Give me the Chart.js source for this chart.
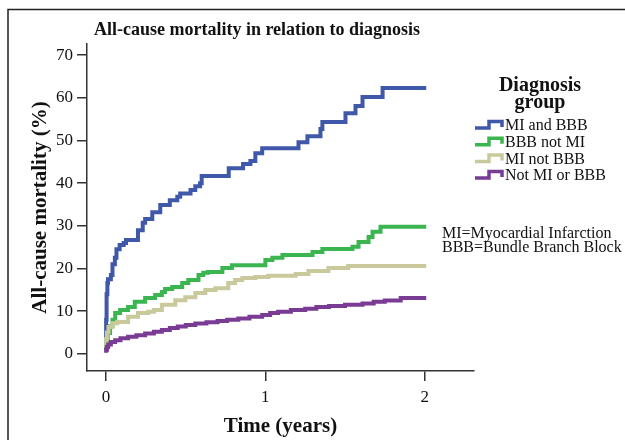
<!DOCTYPE html>
<html>
<head>
<meta charset="utf-8">
<script src="https://cdn.jsdelivr.net/npm/chart.js@4/dist/chart.umd.min.js"></script>
<style>
  html, body { margin: 0; padding: 0; background: #fff; }
  #wrap { width: 625px; height: 440px; }
</style>
</head>
<body>
<div id="wrap"><canvas id="myChart" width="625" height="440"></canvas></div>
<script>
// values (time in years, cumulative mortality in %)
var seriesNames = ['MI and BBB', 'BBB not MI', 'MI not BBB', 'Not MI or BBB'];
var seriesColors = ['#4058a9', '#3bb550', '#c9c99b', '#7a3b95'];

var miBbbTimes  = [0, 0.003, 0.008, 0.012, 0.03, 0.04, 0.055, 0.065, 0.085, 0.11, 0.125, 0.2, 0.23, 0.245, 0.29, 0.34, 0.4, 0.447, 0.465, 0.53, 0.56, 0.59, 0.6, 0.77, 0.86, 0.906, 0.937, 0.98, 1.208, 1.264, 1.346, 1.358, 1.503, 1.566, 1.61, 1.736, 1.83, 2.01];
var miBbbValues = [1.5, 8, 14, 16.6, 17.5, 18.5, 21, 22.5, 24.5, 25.5, 26, 26.7, 29, 30.7, 31.6, 33.2, 34.9, 36, 36.8, 37.6, 38.4, 39.3, 40, 41.7, 43.5, 44.5, 45.2, 47, 48.2, 49.6, 51, 52.7, 54.3, 56.4, 58.1, 60.2, 62.3, 62.3];

var bbbTimes  = [0, 0.01, 0.025, 0.04, 0.057, 0.088, 0.138, 0.18, 0.245, 0.308, 0.35, 0.37, 0.415, 0.478, 0.516, 0.58, 0.61, 0.64, 0.73, 0.79, 1.0, 1.044, 1.107, 1.296, 1.358, 1.547, 1.585, 1.648, 1.673, 1.723, 1.786, 2.01];
var bbbValues = [1, 3, 4.9, 6.5, 8, 9.6, 10.3, 11, 12.2, 13.1, 13.8, 14.5, 15.2, 15.7, 16.6, 17.3, 18.5, 19, 19.2, 20.1, 20.8, 22, 22.5, 23.2, 23.9, 24.6, 25.1, 26.2, 27.4, 28.6, 29.8, 29.8];

var miTimes  = [0, 0.005, 0.015, 0.038, 0.07, 0.138, 0.2, 0.264, 0.3, 0.35, 0.434, 0.497, 0.56, 0.623, 0.686, 0.767, 0.81, 0.855, 0.937, 1.019, 1.19, 1.27, 1.396, 1.52, 1.69, 2.01];
var miValues = [1.5, 3.5, 5, 6.3, 7.2, 7.5, 8.7, 9.6, 9.9, 10.3, 11.5, 12.6, 13.3, 14.3, 15, 15.4, 16.6, 17.3, 17.8, 18, 18.3, 18.7, 19.4, 20.1, 20.6, 20.6];

var noneTimes  = [0, 0.005, 0.013, 0.03, 0.057, 0.09, 0.138, 0.19, 0.245, 0.3, 0.35, 0.4, 0.45, 0.5, 0.56, 0.63, 0.7, 0.76, 0.83, 0.9, 0.98, 1.03, 1.08, 1.16, 1.25, 1.32, 1.4, 1.5, 1.61, 1.68, 1.75, 1.85, 1.94, 2.01];
var noneValues = [0.3, 1, 1.6, 2.2, 2.8, 3.2, 3.7, 4, 4.4, 4.8, 5.2, 5.6, 6.1, 6.4, 6.8, 7.1, 7.4, 7.7, 8, 8.3, 8.7, 9.1, 9.6, 9.9, 10.3, 10.6, 11, 11.2, 11.5, 11.8, 12.2, 12.5, 13.1, 13.1];

var footnoteLines = ['MI=Myocardial Infarction', 'BBB=Bundle Branch Block'];

function toPoints(times, values) {
    var pts = [];
    for (var i = 0; i < times.length; i++) {
        pts.push({x: times[i], y: values[i]});
    }
    return pts;
}

var allTimes = [miBbbTimes, bbbTimes, miTimes, noneTimes];
var allValues = [miBbbValues, bbbValues, miValues, noneValues];
var datasets = [];
for (var s = 0; s < seriesNames.length; s++) {
    datasets.push({
        label: seriesNames[s],
        data: toPoints(allTimes[s], allValues[s]),
        borderColor: seriesColors[s],
        backgroundColor: seriesColors[s],
        borderWidth: 4,
        pointRadius: 0,
        stepped: 'after',
        fill: false,
        order: 4 - s   // later series drawn on top
    });
}

var serif = "'Liberation Serif', 'Times New Roman', serif";

// frame, title, legend and footnote
var decorations = {
    id: 'decorations',
    beforeDraw: function(chart) {
        var ctx = chart.ctx;
        ctx.save();
        ctx.fillStyle = '#fff';
        ctx.fillRect(0, 0, chart.width, chart.height);
        ctx.strokeStyle = '#222';
        ctx.lineWidth = 1.5;
        ctx.beginPath();
        ctx.moveTo(8, 440);
        ctx.lineTo(8, 9.5);
        ctx.lineTo(625, 9.5);
        ctx.stroke();
        ctx.restore();
    },
    afterDraw: function(chart) {
        var ctx = chart.ctx;
        ctx.save();
        ctx.fillStyle = '#111';
        ctx.textBaseline = 'middle';

        ctx.textAlign = 'center';
        ctx.font = 'bold 18px ' + serif;
        ctx.fillText('All-cause mortality in relation to diagnosis', 257, 30);

        ctx.font = 'bold 20px ' + serif;
        ctx.fillText('Diagnosis', 540, 86);
        ctx.fillText('group', 540, 103);

        ctx.textAlign = 'left';
        ctx.font = '16px ' + serif;
        chart.data.datasets.forEach(function(ds, i) {
            var y = 125 + i * 16.7;
            ctx.strokeStyle = ds.borderColor;
            ctx.lineWidth = 3.5;
            ctx.beginPath();
            ctx.moveTo(475, y + 3);
            ctx.lineTo(489, y + 3);
            ctx.lineTo(489, y - 3.5);
            ctx.lineTo(502, y - 3.5);
            ctx.lineTo(502, y + 2);
            ctx.stroke();
            ctx.fillText(ds.label, 505, y + 1);
        });

        footnoteLines.forEach(function(t, i) {
            ctx.fillText(t, 442, 234 + i * 13.5);
        });
        ctx.restore();
    }
};

var ctx = document.getElementById('myChart').getContext('2d');
var myChart = new Chart(ctx, {
    type: 'line',
    data: { datasets: datasets },
    plugins: [decorations],
    options: {
        responsive: false,
        animation: false,
        layout: { padding: { left: 0, right: 151, top: 44, bottom: 0 } },
        plugins: {
            legend: { display: false },
            title: { display: false },
            tooltip: { enabled: false }
        },
        scales: {
            x: {
                type: 'linear',
                min: -0.12,
                max: 2.31,
                ticks: {
                    stepSize: 1,
                    includeBounds: false,
                    color: '#111',
                    padding: 6,
                    font: { family: serif, size: 17 }
                },
                grid: { drawOnChartArea: false, drawTicks: true, tickLength: 10, color: '#333', lineWidth: 1.5 },
                border: { display: true, color: '#333', width: 1.5 },
                title: {
                    display: true,
                    text: 'Time (years)',
                    color: '#111',
                    font: { family: serif, size: 21, weight: 'bold' },
                    padding: { top: 0, bottom: 1 }
                },
                afterFit: function(scale) { scale.height = 69; }
            },
            y: {
                type: 'linear',
                min: -4,
                max: 72.6,
                ticks: {
                    stepSize: 10,
                    includeBounds: false,
                    color: '#111',
                    padding: 4,
                    font: { family: serif, size: 17 }
                },
                grid: { drawOnChartArea: false, drawTicks: true, tickLength: 10, color: '#333', lineWidth: 1.5 },
                border: { display: true, color: '#333', width: 1.5 },
                title: {
                    display: true,
                    text: 'All-cause mortality (%)',
                    color: '#111',
                    font: { family: serif, size: 21, weight: 'bold' },
                    padding: { top: 28, bottom: 0 }
                },
                afterFit: function(scale) { scale.width = 87; }
            }
        }
    }
});
</script>
</body>
</html>
